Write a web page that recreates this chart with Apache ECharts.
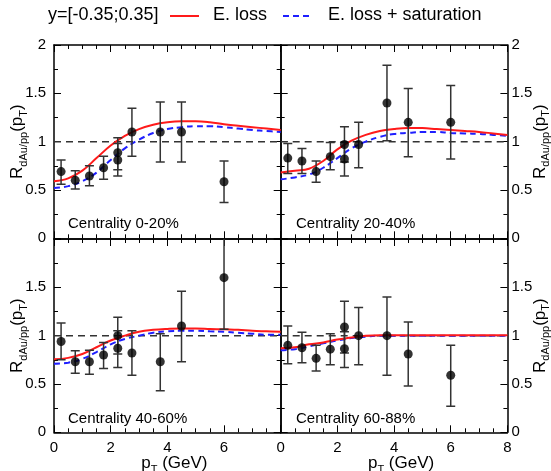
<!DOCTYPE html>
<html>
<head>
<meta charset="utf-8">
<script src="https://cdn.jsdelivr.net/npm/echarts@6/dist/echarts.min.js"></script>
<style>
html,body{margin:0;padding:0;background:#fff;}
#main{width:551px;height:471px;}
</style>
</head>
<body>
<div id="main"></div>
<script>
// data points (pT bins, two points at 2.25)
var pt = [0.25, 0.75, 1.25, 1.75, 2.25, 2.25, 2.75, 3.75, 4.5, 6];

var r_0_20  = [0.69, 0.60, 0.645, 0.73, 0.886, 0.81, 1.10, 1.10, 1.10, 0.585];
var lo_0_20 = [0.56, 0.51, 0.545, 0.61, 0.71, 0.645, 0.85, 0.79, 0.79, 0.37];
var hi_0_20 = [0.81, 0.70, 0.75, 0.85, 1.04, 0.98, 1.345, 1.41, 1.41, 0.80];

var r_20_40  = [0.83, 0.80, 0.69, 0.845, 0.97, 0.82, 0.97, 1.40, 1.20, 1.20];
var lo_20_40 = [0.67, 0.67, 0.58, 0.71, 0.79, 0.645, 0.73, 1.01, 0.845, 0.82];
var hi_20_40 = [0.98, 0.93, 0.80, 0.99, 1.155, 0.99, 1.20, 1.79, 1.55, 1.58];

var r_40_60  = [0.94, 0.73, 0.73, 0.80, 1.00, 0.87, 0.82, 0.73, 1.10, 1.60];
var lo_40_60 = [0.75, 0.61, 0.60, 0.66, 0.81, 0.67, 0.59, 0.43, 0.73, 1.065];
var hi_40_60 = [1.13, 0.845, 0.85, 0.93, 1.19, 1.05, 1.05, 1.02, 1.46, 2.15];

var r_60_88  = [0.90, 0.875, 0.765, 0.86, 1.09, 0.865, 1.00, 1.00, 0.81, 0.59];
var lo_60_88 = [0.71, 0.72, 0.635, 0.70, 0.82, 0.67, 0.70, 0.59, 0.48, 0.27];
var hi_60_88 = [1.10, 1.035, 0.90, 1.02, 1.355, 1.04, 1.29, 1.40, 1.14, 0.90];

// model curves
var curveX = [0, 0.5, 1, 1.5, 2, 2.5, 3, 3.5, 4, 4.5, 5, 5.5, 6, 6.5, 7, 7.5, 8];
var eloss_0_20  = [0.59, 0.62, 0.70, 0.83, 0.96, 1.06, 1.13, 1.175, 1.20, 1.21, 1.21, 1.20, 1.18, 1.165, 1.15, 1.135, 1.12];
var esat_0_20   = [0.52, 0.54, 0.59, 0.68, 0.81, 0.93, 1.02, 1.09, 1.13, 1.15, 1.16, 1.16, 1.15, 1.135, 1.12, 1.11, 1.10];
var eloss_20_40 = [0.68, 0.70, 0.72, 0.80, 0.92, 1.01, 1.07, 1.11, 1.13, 1.14, 1.14, 1.13, 1.12, 1.11, 1.10, 1.085, 1.07];
var esat_20_40  = [0.61, 0.63, 0.66, 0.73, 0.83, 0.93, 1.00, 1.05, 1.08, 1.09, 1.10, 1.10, 1.09, 1.085, 1.08, 1.07, 1.06];
var eloss_40_60 = [0.755, 0.77, 0.81, 0.88, 0.95, 1.00, 1.04, 1.06, 1.07, 1.075, 1.075, 1.07, 1.065, 1.06, 1.05, 1.045, 1.04];
var esat_40_60  = [0.71, 0.72, 0.76, 0.83, 0.91, 0.965, 1.00, 1.03, 1.045, 1.05, 1.05, 1.045, 1.04, 1.03, 1.02, 1.01, 1.01];
var eloss_60_88 = [0.87, 0.88, 0.91, 0.93, 0.96, 0.98, 1.00, 1.005, 1.005, 1.005, 1.005, 1.005, 1.005, 1.005, 1.005, 1.005, 1.005];
var esat_60_88  = [0.85, 0.86, 0.89, 0.92, 0.95, 0.975, 0.99, 1.00, 1.00, 1.00, 1.00, 1.00, 1.00, 1.00, 1.00, 1.00, 1.00];

var centLabels = ['Centrality 0-20%', 'Centrality 20-40%', 'Centrality 40-60%', 'Centrality 60-88%'];
var legendNames = ['E. loss', 'E. loss + saturation'];

var panels = [
    {r: r_0_20, lo: lo_0_20, hi: hi_0_20, el: eloss_0_20, es: esat_0_20},
    {r: r_20_40, lo: lo_20_40, hi: hi_20_40, el: eloss_20_40, es: esat_20_40},
    {r: r_40_60, lo: lo_40_60, hi: hi_40_60, el: eloss_40_60, es: esat_40_60},
    {r: r_60_88, lo: lo_60_88, hi: hi_60_88, el: eloss_60_88, es: esat_60_88}
];

var FONT = 'Liberation Sans';
var RED = '#ff1a1a', BLUE = '#1f1fff';
var chart = echarts.init(document.getElementById('main'));

var gx = [54, 280.7], gy = [45, 239], gw = 226.7, gh = 193.3;
var grids = [];
for (let i = 0; i < 4; i++) {
    let c = i % 2, r = Math.floor(i / 2);
    grids.push({left: gx[c], top: gy[r], width: gw, height: gh, show: false, containLabel: false, outerBoundsMode: 'none'});
}

var yName = '{r|R}{s|dAu/pp}{r|(p}{s|T}{r|)}';
var xName = '{r|p}{s|T}{r| (GeV)}';
var nameRich = {
    r: {fontSize: 17, fontFamily: FONT, color: '#000', verticalAlign: 'top', lineHeight: 18},
    s: {fontSize: 11, fontFamily: FONT, color: '#000', verticalAlign: 'top', lineHeight: 11, padding: [9, 0, 0, 0]}
};

function lineStyle() {
    return {show: true, onZero: false, lineStyle: {color: '#000', width: 1.5}};
}

var xAxes = [], yAxes = [];
for (let i = 0; i < 4; i++) {
    let bottomRow = i >= 2, rightCol = i % 2 == 1;
    // bottom x axis
    xAxes.push({
        gridIndex: i, type: 'value', position: 'bottom', min: 0, max: 8, interval: 2,
        axisLine: lineStyle(),
        axisTick: {inside: true, length: 7, lineStyle: {color: '#000', width: 1}},
        minorTick: {show: true, splitNumber: 4, length: 4, lineStyle: {color: '#000', width: 1}},
        splitLine: {show: false},
        axisLabel: {
            show: bottomRow, fontSize: 15, fontFamily: FONT, color: '#000', margin: 8,
            formatter: function (v) { return (!rightCol && v == 8) ? '' : String(v); }
        },
        name: bottomRow ? xName : '', nameLocation: 'middle', nameGap: 23, nameMoveOverlap: false,
        nameTextStyle: {rich: nameRich, padding: [0, 0, 0, 14]}
    });
    // top x axis (ticks only)
    xAxes.push({
        gridIndex: i, type: 'value', position: 'top', min: 0, max: 8, interval: 2,
        axisLine: lineStyle(),
        axisTick: {inside: true, length: 7, lineStyle: {color: '#000', width: 1}},
        minorTick: {show: true, splitNumber: 4, length: 4, lineStyle: {color: '#000', width: 1}},
        splitLine: {show: false}, axisLabel: {show: false}
    });
    // main y axis (labels)
    yAxes.push({
        gridIndex: i, type: 'value', position: rightCol ? 'right' : 'left', min: 0, max: 2, interval: 0.5,
        axisLine: lineStyle(),
        axisTick: {inside: true, length: 7, lineStyle: {color: '#000', width: 1}},
        minorTick: {show: true, splitNumber: 2, length: 4, lineStyle: {color: '#000', width: 1}},
        splitLine: {show: false},
        axisLabel: {
            fontSize: 15, fontFamily: FONT, color: '#000', margin: rightCol ? 4 : 8,
            formatter: function (v) { return (bottomRow && v == 2) ? '' : String(v); }
        },
        name: yName, nameLocation: 'middle', nameRotate: 90, nameGap: rightCol ? 24 : 27,
        nameMoveOverlap: false,
        nameTextStyle: {rich: nameRich}
    });
    // other y axis (ticks only)
    yAxes.push({
        gridIndex: i, type: 'value', position: rightCol ? 'left' : 'right', min: 0, max: 2, interval: 0.5,
        axisLine: lineStyle(),
        axisTick: {inside: true, length: 7, lineStyle: {color: '#000', width: 1}},
        minorTick: {show: true, splitNumber: 2, length: 4, lineStyle: {color: '#000', width: 1}},
        splitLine: {show: false}, axisLabel: {show: false}
    });
}

function errRender(params, api) {
    let x = api.value(0);
    let top = api.coord([x, api.value(2)]);
    let bot = api.coord([x, api.value(1)]);
    let cw = 4.5;
    let st = {stroke: '#333', lineWidth: 1.5};
    return {
        type: 'group',
        children: [
            {type: 'line', shape: {x1: top[0], y1: top[1], x2: bot[0], y2: bot[1]}, style: st},
            {type: 'line', shape: {x1: top[0] - cw, y1: top[1], x2: top[0] + cw, y2: top[1]}, style: st},
            {type: 'line', shape: {x1: bot[0] - cw, y1: bot[1], x2: bot[0] + cw, y2: bot[1]}, style: st}
        ]
    };
}

var series = [];
panels.forEach(function (p, i) {
    let xi = i * 2, yi = i * 2;
    series.push({
        type: 'line', xAxisIndex: xi, yAxisIndex: yi, data: [[0, 1], [8, 1]],
        symbol: 'none', silent: true, lineStyle: {color: '#333', width: 1.5, type: [7, 5]}
    });
    series.push({
        name: legendNames[1], type: 'line', xAxisIndex: xi, yAxisIndex: yi, smooth: 0.4,
        data: curveX.map(function (x, k) { return [x, p.es[k]]; }),
        symbol: 'none', lineStyle: {color: BLUE, width: 2, type: [6, 4]}
    });
    series.push({
        name: legendNames[0], type: 'line', xAxisIndex: xi, yAxisIndex: yi, smooth: 0.4,
        data: curveX.map(function (x, k) { return [x, p.el[k]]; }),
        symbol: 'none', lineStyle: {color: RED, width: 2}
    });
    series.push({
        type: 'custom', xAxisIndex: xi, yAxisIndex: yi, clip: true, renderItem: errRender,
        data: pt.map(function (x, k) { return [x, p.lo[k], p.hi[k]]; }), z: 5
    });
    series.push({
        type: 'scatter', xAxisIndex: xi, yAxisIndex: yi, symbolSize: 9,
        data: pt.map(function (x, k) { return [x, p.r[k]]; }),
        itemStyle: {color: '#000'}, z: 6
    });
});

// header: text + hand drawn legend samples
var graphics = [
    {type: 'text', left: 48, top: 6, style: {text: 'y=[-0.35;0.35]', fontSize: 18, fontFamily: FONT, fill: '#000'}},
    {type: 'line', shape: {x1: 170, y1: 16, x2: 199, y2: 16}, style: {stroke: RED, lineWidth: 2}},
    {type: 'text', left: 213, top: 6, style: {text: legendNames[0], fontSize: 18, fontFamily: FONT, fill: '#000'}},
    {type: 'line', shape: {x1: 283, y1: 16, x2: 312, y2: 16}, style: {stroke: BLUE, lineWidth: 2, lineDash: [6, 4]}},
    {type: 'text', left: 328, top: 6, style: {text: legendNames[1], fontSize: 18, fontFamily: FONT, fill: '#000'}}
];
var labelPos = [[68, 216], [296, 216], [68, 411], [296, 411]];
centLabels.forEach(function (t, i) {
    graphics.push({type: 'text', left: labelPos[i][0], top: labelPos[i][1],
        style: {text: t, fontSize: 15, fontFamily: FONT, fill: '#000'}});
});

var option = {
    animation: false,
    backgroundColor: '#fff',
    grid: grids,
    xAxis: xAxes,
    yAxis: yAxes,
    graphic: graphics,
    series: series
};
chart.setOption(option);
</script>
</body>
</html>
